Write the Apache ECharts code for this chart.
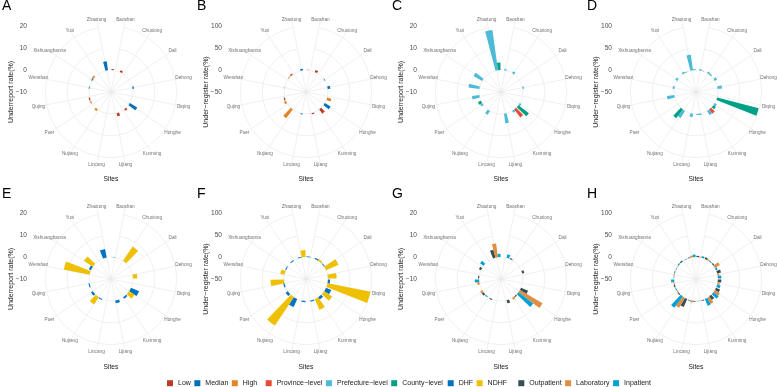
<!DOCTYPE html>
<html>
<head>
<meta charset="utf-8">
<script src="https://cdn.jsdelivr.net/npm/echarts@6/dist/echarts.min.js"></script>
<style>
  html, body { margin: 0; padding: 0; background: #fff; }
  #chart { width: 777px; height: 387px; }
</style>
</head>
<body>
<div id="chart"></div>
<script>
const sites = ['Baoshan', 'Chuxiong', 'Dali', 'Dehong', 'Diqing', 'Honghe', 'Kunming', 'Lijiang',
  'Lincang', 'Nujiang', 'Puer', 'Qujing', 'Wenshan', 'Xishuangbanna', 'Yuxi', 'Zhaotong'];

// radial tick labels
const underTicks = [-10, 0, 10, 20];
const registerTicks = [-50, 0, 50, 100];

// A: underreport by level of estimate
const aLow    = [0.5, 0.8, 0, 0, 0, 0, 0.8, 1.5, 0, 0, 0, 0.6, 0, 0, 0, 0];
const aMedian = [0, 0, 0, 0.6, 0, 3.9, 0, 0, 0, 0, 0, 0, 0.3, 0.5, 0, 4.2];
const aHigh   = [0, 0, 0, 0, 0, 0, 0, 0, 0, 1, 0.6, 0, 0, 0.8, 0, 0];
// B: under-register by level of estimate
const bLow    = [1, 5, 0, 0, 0, 0, 12, 3, 0, 0, 0, 3, 0, 0, 3, 0];
const bMedian = [0, 0, 1.5, 6, 0, 15, 0, 0, 2, 0, 0, 0, 0.5, 0, 0, 3.5];
const bHigh   = [0, 0, 0, 0, 10, 0, 0, 0, 0, 25, 5, 0, 0, 2, 0, 0];
// C: underreport by hospital level
const cProvince   = [0, 0, 0, 0, 0, 0, 4.6, 0, 0, 0, 0, 0, 0, 0, 0, 0];
const cPrefecture = [0.6, 1, 0, 0.6, 0, 0.8, 1, 4.4, 0, 2, 1, 3.4, 5, 4.5, 0, 18.6];
const cCounty     = [0, 0, 0, 0, 0, 6, 0, 0, 0, 0, 1.5, 0, 0, 0, 0, 3.5];
// D: under-register by hospital level
const dProvince   = [0, 0, 0, 0, 0, 0, 12, 0, 0, 0, 0, 0, 0, 0, 0, 0];
const dPrefecture = [3, 4, 6, 10, 0, 5, 11, 3, 8, 19, 0, 17, 4, 5, 4, 36];
const dCounty     = [1, 2, 0, 0, 98, 7, 0, 2, 0, 25, 0, 0, 0, 0, 1, 2];
// E: underreport by diagnosis
const eDHF  = [0.2, 0, 0, 0, 0, 4, 0.8, 1.3, 0, 0.5, 1, 0.5, 0, 1, 0, 4];
const eNDHF = [0, 7.8, 0, 2, 0, 3, 0, 0, 0, 4, 0, 0, 12, 4.9, 0, 0];
// F: under-register by diagnosis
const fDHF  = [2, 3, 2, 0, 5, 13, 6, 3, 3, 20, 6, 3, 0, 2, 2, 2];
const fNDHF = [0, 4, 31, 20, 100, 22, 27, 0, 0, 78, 0, 31, 10, 0, 0, 16];
// G: underreport by case source
const gOutpatient = [0, 0.5, 0, 1, 0, 3.5, 0.5, 1.5, 0, 0.5, 1, 0, 0.5, 1, 0, 3.8];
const gLaboratory = [0, 0, 0, 0, 0, 12, 1, 0, 0, 0, 1, 1, 0, 0, 0, 6.4];
const gInpatient  = [1.7, 0, 0, 0, 0, 8.5, 0, 0, 0, 0.5, 0, 2, 0, 2, 0, 1.5];
// H: under-register by case source
const hOutpatient = [3, 4, 3, 9, 8, 10, 10, 2, 2, 20, 3, 3, 1, 1, 3, 2];
const hLaboratory = [2, 3, 13, 4, 5, 13, 16, 1, 4, 26, 2, 2, 2, 1, 1, 4];
const hInpatient  = [4, 2, 4, 8, 8, 15, 17, 1, 2, 32, 2, 7, 2, 3, 1, 6];

const colors = {
  'Low': '#BC3C29', 'Median': '#0072B5', 'High': '#E18727',
  'Province\u2212level': '#E64B35', 'Prefecture\u2212level': '#4DBBD5', 'County\u2212level': '#00A087',
  'DHF': '#0073C2', 'NDHF': '#EFC000',
  'Outpatient': '#374E55', 'Laboratory': '#DF8F44', 'Inpatient': '#00A1D5'
};
const estGroups = ['Low', 'Median', 'High'];
const levelGroups = ['Province\u2212level', 'Prefecture\u2212level', 'County\u2212level'];
const diagGroups = ['DHF', 'NDHF'];
const sourceGroups = ['Outpatient', 'Laboratory', 'Inpatient'];

const underTitle = 'Underreport rate(%)';
const registerTitle = 'Under\u2212register rate(%)';

const panels = [
  { letter: 'A', ticks: underTicks, title: underTitle, groups: estGroups, values: [aLow, aMedian, aHigh] },
  { letter: 'B', ticks: registerTicks, title: registerTitle, groups: estGroups, values: [bLow, bMedian, bHigh] },
  { letter: 'C', ticks: underTicks, title: underTitle, groups: levelGroups, values: [cProvince, cPrefecture, cCounty] },
  { letter: 'D', ticks: registerTicks, title: registerTitle, groups: levelGroups, values: [dProvince, dPrefecture, dCounty] },
  { letter: 'E', ticks: underTicks, title: underTitle, groups: diagGroups, values: [eDHF, eNDHF] },
  { letter: 'F', ticks: registerTicks, title: registerTitle, groups: diagGroups, values: [fDHF, fNDHF] },
  { letter: 'G', ticks: underTicks, title: underTitle, groups: sourceGroups, values: [gOutpatient, gLaboratory, gInpatient] },
  { letter: 'H', ticks: registerTicks, title: registerTitle, groups: sourceGroups, values: [hOutpatient, hLaboratory, hInpatient] }
];

const font = 'Liberation Sans, Arial, Helvetica, sans-serif';
const gridColor = '#e9e9e9';
const R = 65.7;      // radius of the top tick circle
const RL = 74;       // radius of spokes / site labels
const startAngle = 90 - 360 / sites.length / 2;

const option = {
  animation: false,
  backgroundColor: '#fff',
  textStyle: { fontFamily: font },
  polar: [], angleAxis: [], radiusAxis: [],
  grid: [], xAxis: [], yAxis: [],
  series: [], graphic: [],
  legend: []
};

panels.forEach((p, i) => {
  const col = i % 4, row = Math.floor(i / 4);
  const cx = 111 + 195 * col;
  const cy = row === 0 ? 92 : 279;
  const lo = p.ticks[0], hi = p.ticks[p.ticks.length - 1], step = p.ticks[1] - p.ticks[0];

  // polar holding the bars and the tick circles
  option.polar.push({ center: [cx, cy], radius: [0, R] });
  option.angleAxis.push({
    polarIndex: 2 * i, type: 'category', data: sites, boundaryGap: false,
    startAngle: startAngle, clockwise: true,
    axisLine: { show: false }, axisTick: { show: false }, axisLabel: { show: false },
    splitLine: { show: false }
  });
  option.radiusAxis.push({
    polarIndex: 2 * i, type: 'value', min: lo, max: hi, interval: step,
    axisLine: { show: false }, axisTick: { show: false }, axisLabel: { show: false },
    splitLine: { show: true, lineStyle: { color: gridColor, width: 0.7 } }
  });
  // polar for spokes and site labels
  option.polar.push({ center: [cx, cy], radius: [0, RL] });
  option.angleAxis.push({
    polarIndex: 2 * i + 1, type: 'category', data: sites, boundaryGap: false,
    startAngle: startAngle, clockwise: true, z: 0,
    axisLine: { show: false }, axisTick: { show: false }, axisLabel: { show: false },
    splitLine: { show: true, lineStyle: { color: gridColor, width: 0.7 } }
  });
  option.radiusAxis.push({
    polarIndex: 2 * i + 1, type: 'value', min: 0, max: 1,
    axisLine: { show: false }, axisTick: { show: false }, axisLabel: { show: false },
    splitLine: { show: false }
  });
  // site labels centred on the spoke ends
  option.series.push({
    type: 'scatter', coordinateSystem: 'polar', polarIndex: 2 * i + 1, silent: true,
    symbolSize: 1, itemStyle: { color: 'transparent' },
    data: sites.map(s => ({ name: s, value: [1, s] })),
    label: {
      show: true, position: 'inside', formatter: '{b}', fontSize: 4.7, color: '#4d4d4d',
      fontFamily: font, align: 'center', verticalAlign: 'middle'
    }
  });

  p.groups.forEach((g, j) => {
    option.series.push({
      type: 'bar', name: g, coordinateSystem: 'polar', polarIndex: 2 * i,
      data: p.values[j], barCategoryGap: '10%', barGap: '0%',
      itemStyle: { color: colors[g] }, silent: true, z: 3
    });
  });

  // left radial scale and title
  const hmin = hi - 2 * (hi - lo);
  option.grid.push({ left: cx - 82, top: cy - R, width: 10, height: R * (hi - hmin) / (hi - lo) });
  option.xAxis.push({ gridIndex: i, type: 'value', show: false });
  option.yAxis.push({
    gridIndex: i, type: 'value', min: hmin, max: hi, interval: step,
    axisLine: { show: false }, axisTick: { show: false }, splitLine: { show: false },
    axisLabel: {
      fontSize: 6.6, color: '#4d4d4d', margin: 2,
      formatter: v => v < lo ? '' : String(v).replace('-', '\u2212')
    },
    name: p.title, nameLocation: 'middle', nameGap: 14, nameMoveOverlap: false,
    nameTextStyle: { fontSize: 7, color: '#1a1a1a' }
  });

  option.graphic.push({
    type: 'text', left: cx - 109, top: row === 0 ? -1 : 187,
    style: { text: p.letter, font: '14px ' + font, fill: '#000' }
  });
  option.graphic.push({
    type: 'text', x: cx, y: row === 0 ? 179 : 366.7,
    style: { text: 'Sites', font: '6.7px ' + font, fill: '#1a1a1a', align: 'center', verticalAlign: 'middle' }
  });
});

const legendBase = {
  top: 379.7, itemWidth: 6, itemHeight: 6, itemGap: 3.5, icon: 'rect', padding: 0,
  textStyle: { fontSize: 7, color: '#1a1a1a', fontFamily: font }, selectedMode: false
};
option.legend.push(Object.assign({ left: 167, data: estGroups }, legendBase));
option.legend.push(Object.assign({ left: 265.7, data: levelGroups }, legendBase));
option.legend.push(Object.assign({ left: 447.7, data: diagGroups }, legendBase));
option.legend.push(Object.assign({ left: 518.3, data: sourceGroups }, legendBase));

const chart = echarts.init(document.getElementById('chart'), null, { renderer: 'canvas' });
chart.setOption(option);
</script>
</body>
</html>
